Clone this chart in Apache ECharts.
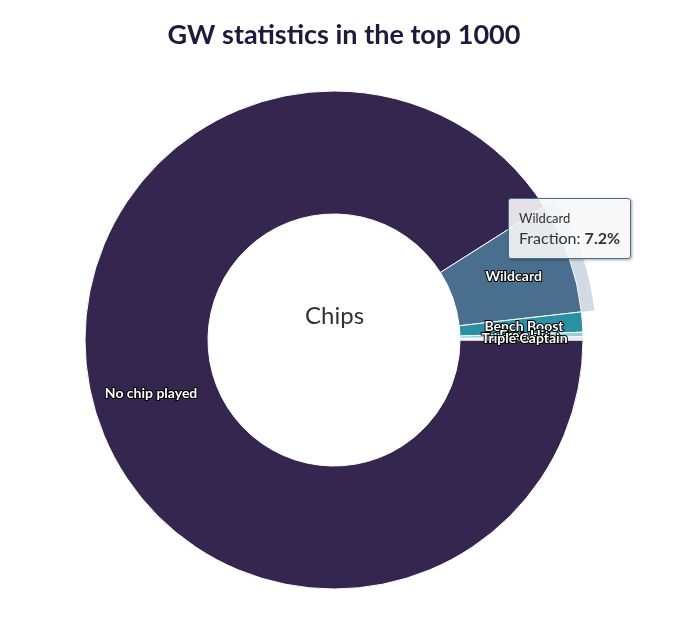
<!DOCTYPE html>
<html><head><meta charset="utf-8">
<script src="https://cdn.jsdelivr.net/npm/echarts@6/dist/echarts.min.js"></script>
<style>html,body{margin:0;padding:0;background:#fff}#c{width:688px;height:632px}</style>
</head><body><div id="c"></div>
<script>
const categories = ['No chip played', 'Wildcard', 'Bench Boost', 'Free Hit', 'Triple Captain'];
const fractions = [91.0, 7.2, 1.3, 0.3, 0.2];
const colors = ['#35264f', '#4a6e8e', '#2b8fa6', '#8fd0d8', '#e6e3ee'];
const highlighted = 1;

const chart = echarts.init(document.getElementById('c'), null, {renderer: 'canvas'});
const FONT = 'Lato, "Noto Sans", sans-serif';
const mainData = categories.map((n, i) => ({name: n, value: fractions[i], itemStyle: {color: colors[i]}}));
const haloData = categories.map((n, i) => ({name: n, value: fractions[i],
  itemStyle: {color: i === highlighted ? 'rgba(74,110,142,0.25)' : 'rgba(0,0,0,0)'}}));

chart.setOption({
  animation: false,
  backgroundColor: '#fff',
  title: {
    text: 'GW statistics in the top 1000', left: 'center', top: 17,
    textStyle: {fontFamily: FONT, fontSize: 27, fontWeight: 'bold', color: '#1e1a3c'}
  },
  graphic: [{
    type: 'text', left: 305, top: 304,
    style: {text: 'Chips', fontFamily: FONT, fontSize: 24, fill: '#333'}
  }],
  tooltip: {
    trigger: 'item', triggerOn: 'none', alwaysShowContent: true,
    backgroundColor: 'rgba(247,247,247,0.9)', borderColor: '#4a6e8e', borderWidth: 1,
    borderRadius: 3, padding: [9, 10],
    extraCssText: 'box-shadow:1px 1px 3px rgba(0,0,0,0.35);',
    position: function () { return [508, 198]; },
    formatter: function (p) {
      return '<div style="font-family:Lato,Noto Sans,sans-serif;color:#333;line-height:20px">' +
        '<span style="font-size:13px">' + p.name + '</span><br/>' +
        '<span style="font-size:16px">Fraction: <b>' + p.value.toFixed(1) + '%</b></span></div>';
    }
  },
  series: [
    {
      type: 'pie', silent: true, z: 1,
      center: [334, 340], radius: [249, 262], startAngle: 0, clockwise: true,
      label: {show: false}, labelLine: {show: false},
      itemStyle: {borderWidth: 0},
      emphasis: {disabled: true},
      data: haloData
    },
    {
      type: 'pie', z: 2,
      center: [334, 340], radius: [126, 249], startAngle: 0, clockwise: true,
      avoidLabelOverlap: false,
      itemStyle: {borderColor: '#fff', borderWidth: 1},
      label: {
        show: true, position: 'inside', formatter: '{b}',
        fontFamily: FONT, fontSize: 14, fontWeight: 'bold', color: '#fff',
        textBorderColor: '#000', textBorderWidth: 2
      },
      labelLayout: {hideOverlap: false},
      emphasis: {scale: false, disabled: true},
      data: mainData
    }
  ]
});
chart.dispatchAction({type: 'showTip', seriesIndex: 1, dataIndex: highlighted});
</script></body></html>
